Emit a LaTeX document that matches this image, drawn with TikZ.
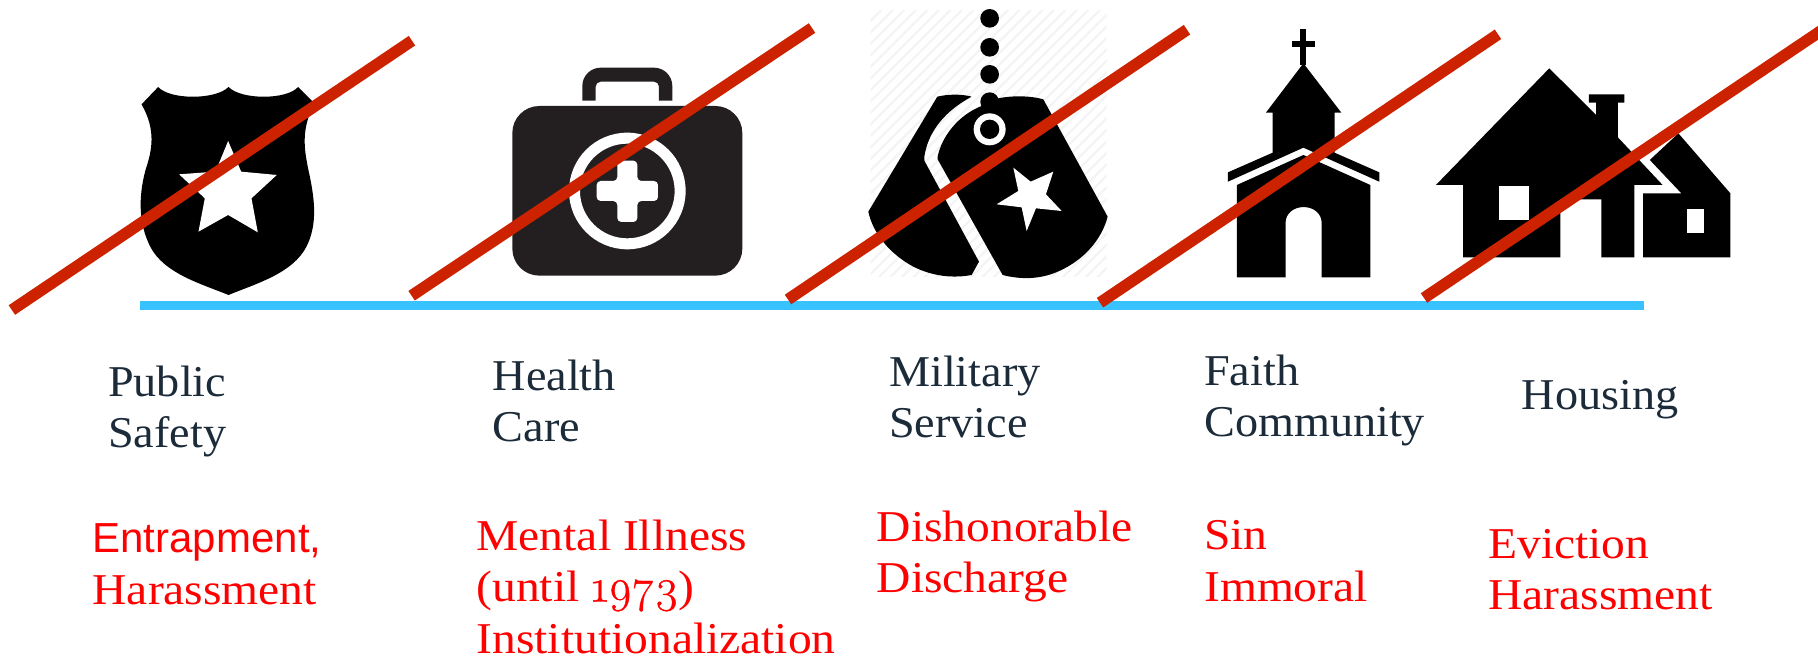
\documentclass[tikz,border=0pt]{standalone}
\usepackage{fontspec}
\setmainfont[FakeStretch=1.08]{Liberation Serif}
\setsansfont{Liberation Sans}
\newfontfamily\sectorfont[FakeStretch=1.05]{Liberation Serif}
\newfontfamily\oldnumfont[Numbers=OldStyle,FakeBold=0.8,Scale=1.05]{Latin Modern Roman}
\definecolor{slashred}{HTML}{CC2200}
\definecolor{barblue}{HTML}{38C2FF}
\definecolor{inkdark}{HTML}{1C2B39}
\definecolor{kitdark}{HTML}{231F20}
\definecolor{labelred}{HTML}{FF0000}
\definecolor{hatch}{HTML}{F4F4F4}
\tikzset{
  slash/.style={line width=11.5pt,color=slashred},
  bar/.style={line width=9pt,color=barblue},
  sector/.style={anchor=base west,inner sep=0pt,align=left,text=inkdark,font=\fontsize{44}{51.4}\sectorfont\selectfont},
  stigma/.style={anchor=base west,inner sep=0pt,align=left,text=labelred,font=\fontsize{44}{51.4}\selectfont},
  icon/.style={fill=black,draw=none},
  hole/.style={fill=white,draw=none}
}
\begin{document}
\begin{tikzpicture}[x=1pt,y=-1pt]
\useasboundingbox (0,0) rectangle (1818,659);
\clip (0,0) rectangle (1818,659);

% hatched backdrop of the tags
\begin{scope}
  \clip (870.7,10) rectangle (1106.7,276.7);
  \foreach \k in {0,...,45}{
    \draw[hatch,line width=2.2pt] (870+\k*11.5,10) -- ++(-270,270);
  }
\end{scope}

% shield
\begin{scope}[x=0.3954pt,y=-0.3333pt]
  \path[icon] (400,261) .. controls (430,300) and (545,300) .. (578,261)
     .. controls (610,300) and (725,300) .. (754,261) -- (795,310)
     .. controls (760,390) and (770,450) .. (780,510)
     .. controls (795,590) and (805,670) .. (775,740)
     .. controls (740,820) and (650,850) .. (578,885)
     .. controls (505,850) and (415,820) .. (380,740)
     .. controls (350,670) and (350,590) .. (368,510)
     .. controls (385,450) and (395,390) .. (358,313) -- cycle;
  \path[hole] (577,423) -- (610,515) -- (700,525) -- (636,595) -- (652,697)
     -- (577,645) -- (502,695) -- (518,595) -- (453,523) -- (545,515) -- cycle;
\end{scope}

% medical kit
\begin{scope}[shift={(500pt,-50pt)},x=0.3333pt,y=-0.3333pt]
  \fill[kitdark] (247,152) -- (247,108) arc[start angle=180,end angle=90,x radius=55,y radius=-55]
     -- (462,53) arc[start angle=90,end angle=0,x radius=55,y radius=-55]
     -- (517,152) -- (477,152) -- (477,110) arc[start angle=0,end angle=90,x radius=15,y radius=-15]
     -- (302,95) arc[start angle=90,end angle=180,x radius=15,y radius=-15] -- (287,152) -- cycle;
  \fill[kitdark,rounded corners=27pt] (37,168) rectangle (727,677);
  \fill[white,even odd rule] (382,423) circle[radius=175] (382,423) circle[radius=142];
  \fill[white,rounded corners=4pt] (352,393) -- (352,332) -- (412,332) -- (412,393) -- (474,393) -- (474,453)
     -- (412,453) -- (412,516) -- (352,516) -- (352,453) -- (290,453) -- (290,393) -- cycle;
\end{scope}

% dog tags
\begin{scope}[shift={(780pt,0pt)},x=0.3333pt,y=-0.3333pt]
  \foreach \yy in {55,142,223,305}{ \fill[black] (629,\yy) circle[radius=28]; }
  \path[icon] (472,290) .. controls (505,282) and (545,282) .. (575,290)
     .. controls (500,330) and (445,390) .. (433,470) -- (433,482) -- (597,785) -- (575,825)
     .. controls (520,835) and (460,830) .. (400,800)
     .. controls (335,765) and (280,705) .. (265,635) -- cycle;
  \path[icon] (473,478) -- (473,470) .. controls (485,410) and (535,345) .. (605,318)
     -- (655,295) .. controls (700,286) and (750,287) .. (790,298) -- (983,650)
     .. controls (965,720) and (910,780) .. (840,812)
     .. controls (785,838) and (725,840) .. (668,825) -- cycle;
  \fill[white] (629,388) circle[radius=48];
  \fill[black] (629,388) circle[radius=29];
  \path[hole] (700,503) -- (752,545) -- (820,515) -- (798,583) -- (845,633) -- (768,625)
     -- (740,693) -- (725,622) -- (650,613) -- (715,573) -- cycle;
\end{scope}

% church and house
\begin{scope}[shift={(1150pt,0pt)},x=0.4261pt,y=-0.3333pt]
  \path[icon] (353,88) rectangle (367,195);
  \path[icon] (333,124) rectangle (388,142);
  \path[icon] (360,190) -- (449,338) -- (433,338) -- (433,458) -- (538,517) -- (538,545)
     -- (360,443) -- (183,545) -- (183,517) -- (288,458) -- (288,338) -- (272,338) -- cycle;
  \path[icon] (204,555) -- (360,465) -- (517,555) -- (517,832) -- (403,832) -- (403,670)
     .. controls (403,605) and (318,605) .. (318,670) -- (318,832) -- (204,832) -- cycle;
  \path[icon] (937,205) -- (1047,345) -- (1047,308) -- (1030,308) -- (1030,283) -- (1113,283)
     -- (1113,308) -- (1098,308) -- (1098,412) -- (1203,555) -- (1137,555) -- (1137,772)
     -- (1059,772) -- (1059,598) -- (963,598) -- (963,772) -- (735,772) -- (735,555)
     -- (671,555) -- cycle;
  \path[hole] (820,558) rectangle (890,660);
  \path[icon] (1240,400) -- (1362,580) -- (1362,772) -- (1157,772) -- (1157,580) -- (1247,580)
     -- (1173,480) -- cycle;
  \path[hole] (1260,627) rectangle (1299,698);
\end{scope}

% timeline bar and strike-outs
\coordinate (barL) at (139.6,305);
\coordinate (barR) at (1644,305);
\draw[bar] (barL) -- (barR);
\coordinate (s1a) at (11.9,310);   \coordinate (s1b) at (412,40.7);
\coordinate (s2a) at (411.6,295.7);\coordinate (s2b) at (812,28);
\coordinate (s3a) at (788,299.5);  \coordinate (s3b) at (1187,29.7);
\coordinate (s4a) at (1100,302.7); \coordinate (s4b) at (1498,34.3);
\coordinate (s5a) at (1424,298);   \coordinate (s5b) at (1840,18);
\foreach \i in {1,...,5}{ \draw[slash] (s\i a) -- (s\i b); }

% sector labels
\node[sector] (safety) at (108,447.5) {Public\\Safety};
\node[sector] (health) at (492.5,441.5) {Health\\Care};
\node[sector] (military) at (889,437.5) {Military\\Service};
\node[sector] (faith) at (1204,436.5) {Faith\\Community};
\node[sector] (housing) at (1521.6,409) {Housing};

% stigma labels
\node[stigma,font=\fontsize{42}{51.4}\sffamily\selectfont] (entrap) at (92.4,552) {Entrapment,};
\node[stigma] (harass) at (92.4,604) {Harassment};
\node[stigma] (mental) at (476.4,653) {Mental Illness\\(until {\oldnumfont 1973})\\Institutionalization};
\node[stigma] (discharge) at (876.6,592.5) {Dishonorable\\Discharge};
\node[stigma] (sin) at (1204,601) {Sin\\Immoral};
\node[stigma] (evict) at (1488,609.5) {Eviction\\Harassment};
\end{tikzpicture}
\end{document}
